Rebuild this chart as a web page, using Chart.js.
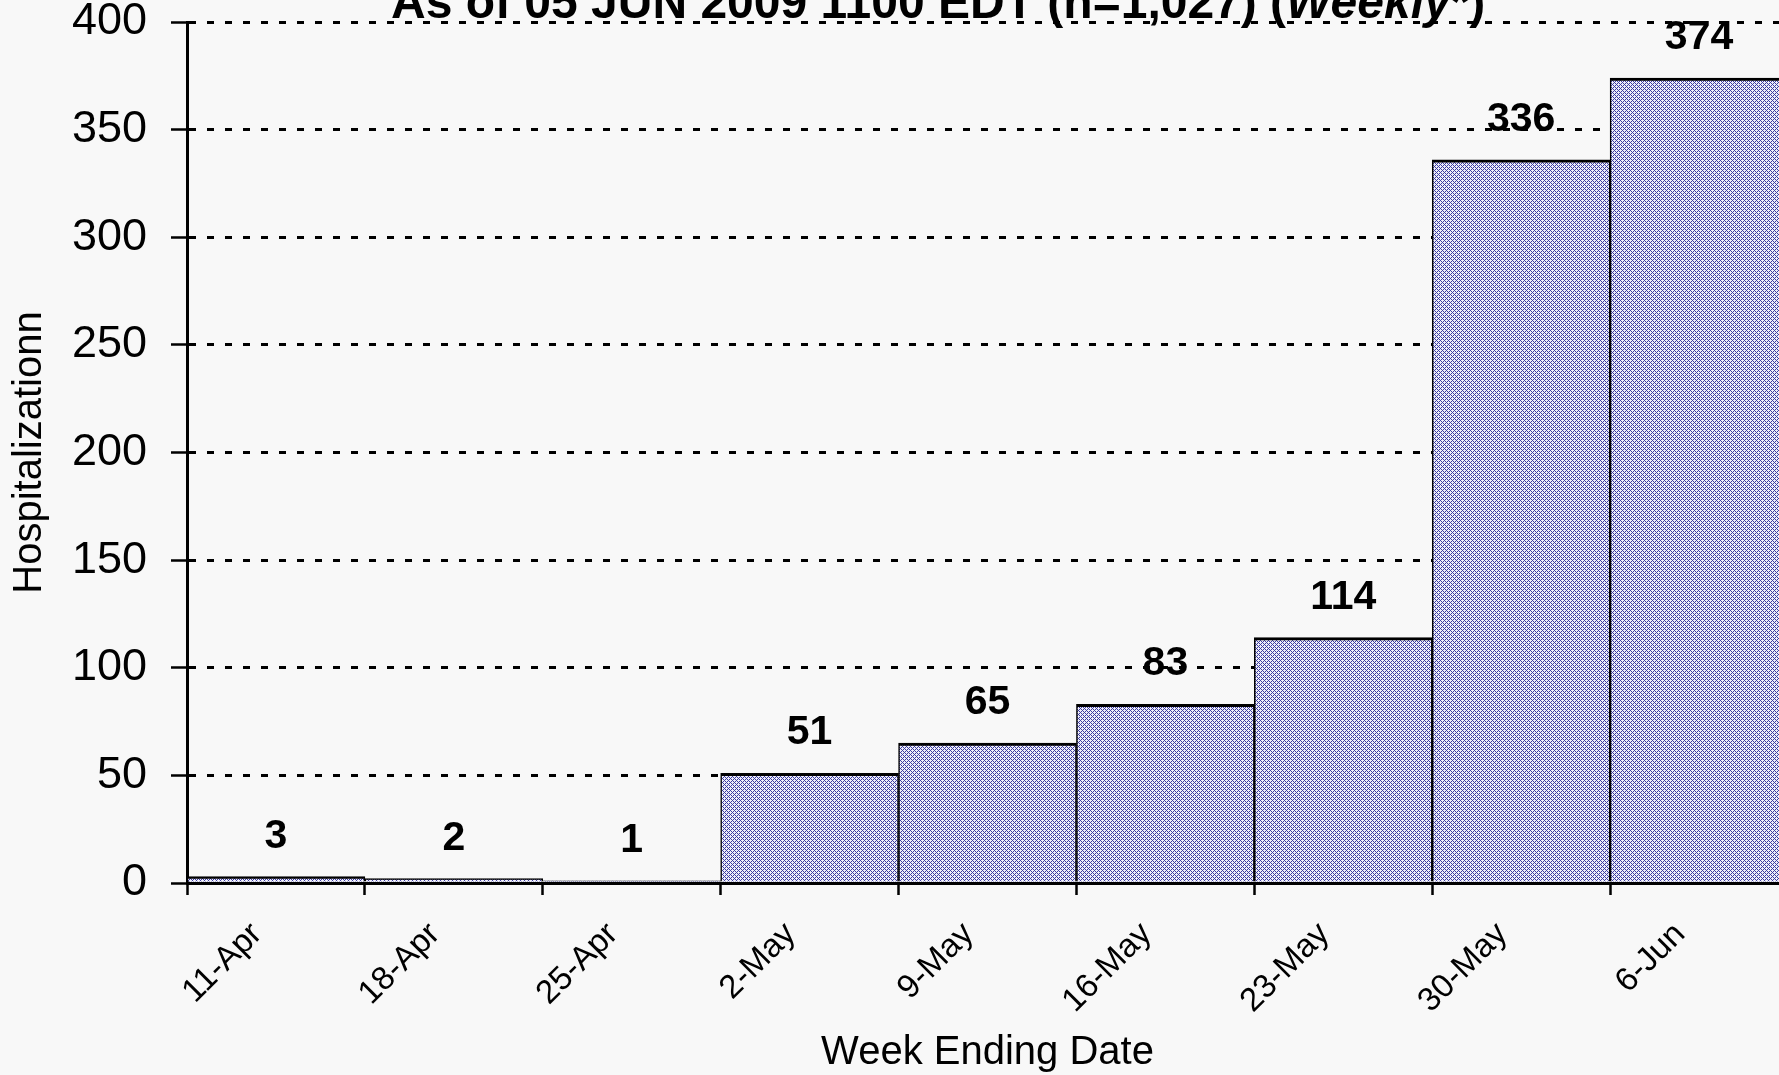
<!DOCTYPE html>
<html><head><meta charset="utf-8">
<script src="https://cdn.jsdelivr.net/npm/chart.js@4.4.1/dist/chart.umd.min.js"></script>
<style>
html,body{margin:0;padding:0;background:#f8f8f8;overflow:hidden}
#outer{width:1779px;height:1075px;overflow:hidden;position:relative}
#inner{width:1788px;height:1075px;position:relative}
</style>
</head><body>
<div id="outer"><div id="inner"><canvas id="c"></canvas></div></div>
<script>
const categories = ['11-Apr','18-Apr','25-Apr','2-May','9-May','16-May','23-May','30-May','6-Jun'];
const hospitalizations = [3, 2, 1, 51, 65, 83, 114, 336, 374];
const yTickValues = [0, 50, 100, 150, 200, 250, 300, 350, 400];
const titleParts = ['As of 05 JUN 2009 1100 EDT (n=1,027) (', 'Weekly', '*)'];
const yAxisTitle = 'Hospitalizationn';
const xAxisTitle = 'Week Ending Date';

const FONT = '"Liberation Sans", Arial, sans-serif';

function makePattern() {
  const p = document.createElement('canvas');
  p.width = 4; p.height = 4;
  const g = p.getContext('2d');
  g.fillStyle = '#eeeefa';
  g.fillRect(0, 0, 4, 4);
  g.fillStyle = '#3c3ca0';
  for (let y = 0; y < 4; y++) for (let x = 0; x < 4; x++) {
    if ((x + y) % 4 === 0 || (x - y + 4) % 4 === 0) g.fillRect(x, y, 1, 1);
  }
  return document.getElementById('c').getContext('2d').createPattern(p, 'repeat');
}

const bgPlugin = {
  id: 'bg',
  beforeDraw(chart) {
    const ctx = chart.ctx;
    ctx.save();
    ctx.fillStyle = '#f8f8f8';
    ctx.fillRect(0, 0, chart.width, chart.height);
    ctx.restore();
  }
};

const labelPlugin = {
  id: 'vals',
  afterDatasetsDraw(chart) {
    const ctx = chart.ctx;
    const meta = chart.getDatasetMeta(0);
    ctx.save();
    ctx.font = 'bold 41px ' + FONT;
    ctx.fillStyle = '#000';
    ctx.textAlign = 'center';
    ctx.textBaseline = 'alphabetic';
    meta.data.forEach((el, i) => {
      ctx.fillText(String(hospitalizations[i]), el.x, el.y - 29);
    });
    ctx.restore();
  }
};

const titlePlugin = {
  id: 'topTitle',
  afterDraw(chart) {
    const ctx = chart.ctx;
    ctx.save();
    ctx.fillStyle = '#000';
    ctx.textBaseline = 'alphabetic';
    ctx.textAlign = 'left';
    let x = 391;
    const y = 18;
    const fonts = ['bold 48px ' + FONT, 'italic bold 48px ' + FONT, 'bold 48px ' + FONT];
    titleParts.forEach((t, i) => {
      ctx.font = fonts[i];
      ctx.fillText(t, x, y);
      x += ctx.measureText(t).width;
    });
    ctx.restore();
  }
};

new Chart(document.getElementById('c'), {
  type: 'bar',
  data: {
    labels: categories,
    datasets: [{
      data: hospitalizations,
      backgroundColor: makePattern(),
      borderColor: '#000',
      borderWidth: {top: 3, left: 1.5, right: 1.5, bottom: 0},
      borderSkipped: false,
      barPercentage: 1,
      categoryPercentage: 1
    }]
  },
  options: {
    responsive: true,
    maintainAspectRatio: false,
    devicePixelRatio: 1,
    animation: false,
    layout: {padding: {left: 0, top: 22, right: 0, bottom: 0}},
    plugins: {legend: {display: false}, title: {display: false}, tooltip: {enabled: false}},
    scales: {
      x: {
        type: 'category',
        offset: true,
        grid: {offset: true, drawOnChartArea: false, drawTicks: true, tickLength: 12, tickWidth: 2.5, tickColor: '#000', tickBorderDash: []},
        border: {display: true, color: '#000', width: 3},
        ticks: {autoSkip: false, minRotation: 45, maxRotation: 45, color: '#000', font: {family: FONT, size: 33}, padding: 20, labelOffset: -19},
        title: {display: true, text: xAxisTitle, color: '#000', font: {family: FONT, size: 40, lineHeight: 1}, padding: {top: 0, bottom: 2}},
        afterFit(s) { s.height = 192; s.paddingLeft = 0; s.paddingRight = 0; }
      },
      y: {
        min: 0, max: 400,
        afterBuildTicks(s) { s.ticks = yTickValues.map(v => ({value: v})); },
        grid: {color: '#000', lineWidth: 3, drawTicks: true, tickLength: 16, tickWidth: 2.5, tickColor: '#000', tickBorderDash: []},
        border: {display: true, color: '#000', width: 3, dash: [7, 11]},
        ticks: {color: '#000', font: {family: FONT, size: 45, lineHeight: 1}, padding: 24},
        title: {display: true, text: yAxisTitle, color: '#000', font: {family: FONT, size: 40, lineHeight: 1}, padding: {top: 9.5, bottom: 0}},
        afterFit(s) { s.width = 187; s.paddingTop = 0; s.paddingBottom = 0; }
      }
    }
  },
  plugins: [bgPlugin, labelPlugin, titlePlugin]
});
</script>
</body></html>
